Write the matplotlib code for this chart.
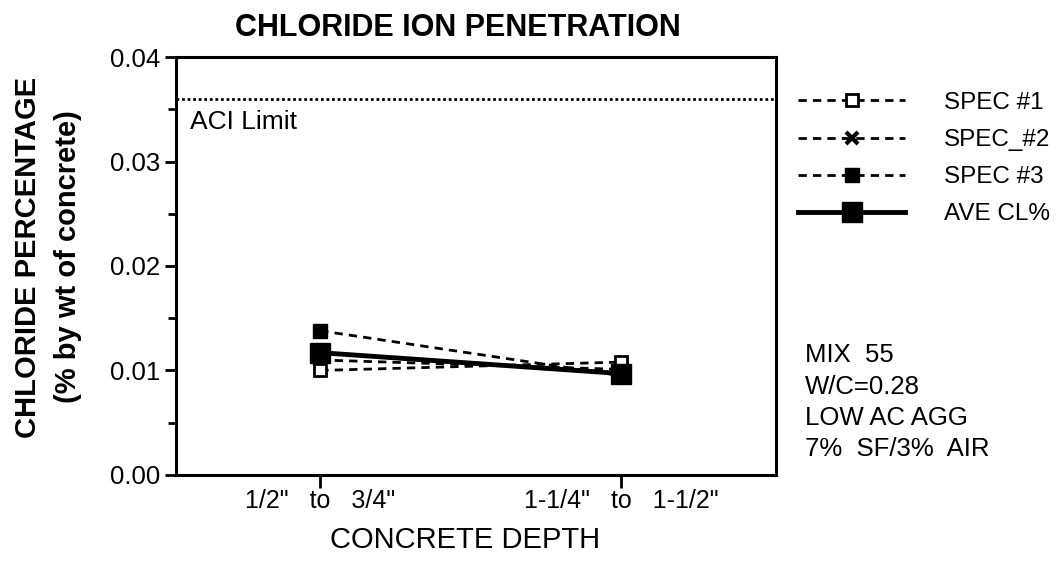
import matplotlib
matplotlib.use("Agg")
import matplotlib.pyplot as plt
from matplotlib.ticker import MultipleLocator

plt.rcParams['font.family'] = ['Liberation Sans', 'DejaVu Sans']

# Data
depths = ['1/2"   to   3/4"', '1-1/4"   to   1-1/2"']
spec1 = [0.0100, 0.0108]
spec2 = [0.0110, 0.0101]
spec3 = [0.0138, 0.0095]
ave_cl = [0.0117, 0.0097]
aci_limit = 0.036
y_ticks = [0.0, 0.01, 0.02, 0.03, 0.04]
y_ticklabels = ['0.00', '0.01', '0.02', '0.03', '0.04']
mix_notes = ["MIX  55", "W/C=0.28", "LOW AC AGG", "7%  SF/3%  AIR"]

W, H = 1059, 577
fig = plt.figure(figsize=(W / 100, H / 100), dpi=100)
ax = fig.add_axes([0.166, 0.177, 0.567, 0.724])

x = [1, 2]
dash = (0, (3.0, 2.2))
ax.plot(x, spec1, linestyle=dash, color='black', lw=2.0, marker='s',
        markersize=8, markerfacecolor='white', markeredgecolor='black',
        markeredgewidth=2.0, label='SPEC #1', zorder=4)
ax.plot(x, spec2, linestyle=dash, color='black', lw=2.0, marker='x',
        markersize=9, markeredgewidth=3, label='SPEC_#2', zorder=3)
ax.plot(x, spec3, linestyle=dash, color='black', lw=2.0, marker='s',
        markersize=10, markerfacecolor='black', markeredgecolor='black',
        label='SPEC #3', zorder=3)
ax.plot(x, ave_cl, linestyle='-', color='black', lw=3.5, marker='s',
        markersize=14, markerfacecolor='black', markeredgecolor='black',
        label='AVE CL%', zorder=5)

ax.axhline(aci_limit, color='black', linestyle=(0, (1, 1)), lw=2.0)
ax.text(0.568, aci_limit - 0.0011, 'ACI Limit', fontsize=19, va='top', ha='left')

ax.set_xlim(0.52, 2.515)
ax.set_ylim(0, 0.04)
ax.set_xticks(x)
ax.set_xticklabels(depths, fontsize=18)
ax.set_yticks(y_ticks)
ax.set_yticklabels(y_ticklabels)
ax.yaxis.set_minor_locator(MultipleLocator(0.005))
ax.tick_params(axis='y', which='major', length=8, width=2, labelsize=18.5, pad=3)
ax.tick_params(axis='y', which='minor', length=6, width=2)
ax.tick_params(axis='x', which='major', length=9, width=2, pad=1)
for s in ax.spines.values():
    s.set_linewidth(2.2)

fig.text(458 / W, 1 - 28 / H, 'CHLORIDE ION PENETRATION', fontsize=22,
         fontweight='bold', ha='center', va='center')
fig.text(465 / W, 1 - 540 / H, 'CONCRETE DEPTH', fontsize=21,
         ha='center', va='center')
fig.text(28 / W, 1 - 257 / H, 'CHLORIDE PERCENTAGE', fontsize=21,
         fontweight='bold', rotation=90, ha='center', va='center')
fig.text(68 / W, 1 - 257 / H, '(% by wt of concrete)', fontsize=21,
         fontweight='bold', rotation=90, ha='center', va='center')

ax.legend(loc='upper left', bbox_to_anchor=(1.0, 0.969), frameon=False,
          fontsize=17.5, handlelength=4.4, handletextpad=1.6,
          labelspacing=0.62, borderpad=0.4)

for i, note in enumerate(mix_notes):
    fig.text(805 / W, 1 - (355 + 31.5 * i) / H, note, fontsize=18.5,
             ha='left', va='center')

fig.savefig('out.png', dpi=100)
